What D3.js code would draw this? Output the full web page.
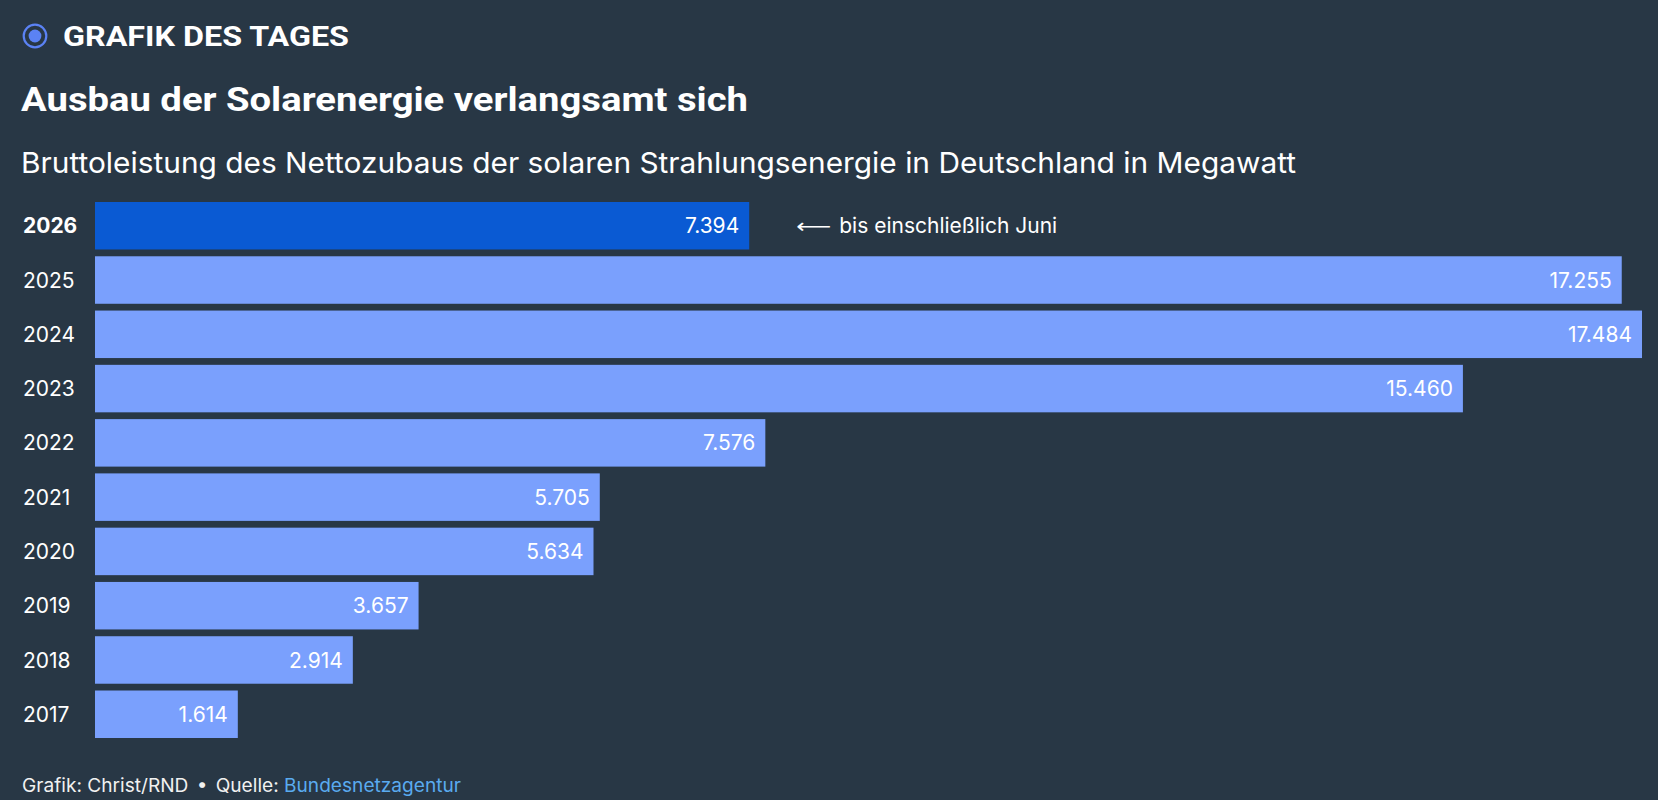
<!DOCTYPE html>
<html lang="de">
<head>
<meta charset="utf-8">
<title>Ausbau der Solarenergie verlangsamt sich</title>
<script src="https://cdn.jsdelivr.net/npm/d3@7"></script>
<style>
  html, body { margin: 0; padding: 0; background: #283745; }
  svg { display: block; }
</style>
</head>
<body>
<div id="chart"></div>
<script>
// ── data ────────────────────────────────────────────────────────────────────
const YEARS  = ["2026","2025","2024","2023","2022","2021","2020","2019","2018","2017"];
const VALUES = [7394, 17255, 17484, 15460, 7576, 5705, 5634, 3657, 2914, 1614];
const HIGHLIGHT_YEAR = "2026";
const NOTE_TEXT = "bis einschließlich Juni";

const KICKER   = "GRAFIK DES TAGES";
const TITLE    = "Ausbau der Solarenergie verlangsamt sich";
const SUBTITLE = "Bruttoleistung des Nettozubaus der solaren Strahlungsenergie in Deutschland in Megawatt";
const CREDIT   = "Grafik: Christ/RND";
const SOURCE_LABEL = "Quelle: ";
const SOURCE   = "Bundesnetzagentur";

// ── layout / style ──────────────────────────────────────────────────────────
const W = 1658, H = 800;
const BG = "#283745";
const BAR_COLOR = "#7aa0fd";
const BAR_HIGHLIGHT = "#0a5ad3";
const ACCENT = "#5b82f4";
const LINK = "#5aabf0";
const SANS = "Inter, 'Noto Sans', sans-serif";
const HEAD = "Roboto, Inter, sans-serif";
const LABEL_SIZE = "21px";

const rows = YEARS.map((year, i) => ({ year, value: VALUES[i] }));

// German number format: 17.484
const de = d3.formatLocale({ decimal: ",", thousands: ".", grouping: [3], currency: ["", " €"] });
const fmt = de.format(",d");

const svg = d3.select("#chart")
  .append("svg")
    .attr("width", W)
    .attr("height", H)
    .style("background", BG);

// ── header ──────────────────────────────────────────────────────────────────
svg.append("circle")
  .attr("cx", 35).attr("cy", 36).attr("r", 11.3)
  .attr("fill", "none").attr("stroke", ACCENT).attr("stroke-width", 2.2);
svg.append("circle")
  .attr("cx", 35).attr("cy", 36).attr("r", 6.4)
  .attr("fill", ACCENT);

svg.append("text")
  .attr("x", 63).attr("y", 45.5)
  .attr("textLength", 286).attr("lengthAdjust", "spacingAndGlyphs")
  .style("font-family", HEAD).style("font-weight", 700).style("font-size", "28px")
  .style("fill", "#fff")
  .text(KICKER);

svg.append("text")
  .attr("x", 21).attr("y", 110.5)
  .attr("textLength", 727).attr("lengthAdjust", "spacingAndGlyphs")
  .style("font-family", HEAD).style("font-weight", 700).style("font-size", "34px")
  .style("fill", "#fff")
  .text(TITLE);

svg.append("text")
  .attr("x", 21).attr("y", 172.5)
  .attr("textLength", 1275).attr("lengthAdjust", "spacingAndGlyphs")
  .style("font-family", SANS).style("font-weight", 400).style("font-size", "29px")
  .style("fill", "#fff")
  .text(SUBTITLE);

// ── scales ──────────────────────────────────────────────────────────────────
const x = d3.scaleLinear()
  .domain([0, d3.max(VALUES)])
  .range([95, 1642]);

const y = d3.scaleBand()
  .domain(YEARS)
  .range([202, 738])
  .paddingInner(0.125);

// ── bars ────────────────────────────────────────────────────────────────────
const rowG = svg.append("g").attr("class", "bars")
  .selectAll(".row")
  .data(rows, d => d.year)
  .join("g")
    .attr("class", "row")
    .attr("transform", d => `translate(0,${y(d.year)})`);

rowG.append("rect")
  .attr("x", x(0))
  .attr("width", d => x(d.value) - x(0))
  .attr("height", y.bandwidth())
  .attr("fill", d => d.year === HIGHLIGHT_YEAR ? BAR_HIGHLIGHT : BAR_COLOR);

// year labels (left)
rowG.append("text")
  .attr("x", 23)
  .attr("y", y.bandwidth() / 2)
  .attr("dy", "0.36em")
  .style("font-family", SANS).style("font-size", LABEL_SIZE)
  .style("font-weight", d => d.year === HIGHLIGHT_YEAR ? 700 : 400)
  .style("fill", "#fff")
  .text(d => d.year);

// value labels inside bar end
rowG.append("text")
  .attr("x", d => x(d.value) - 10)
  .attr("y", y.bandwidth() / 2)
  .attr("dy", "0.36em")
  .attr("text-anchor", "end")
  .style("font-family", SANS).style("font-size", LABEL_SIZE)
  .style("fill", "#fff")
  .text(d => fmt(d.value));

// annotation for the partial year
const hl = rows.find(d => d.year === HIGHLIGHT_YEAR);
const noteG = svg.append("g")
  .attr("transform", `translate(${x(hl.value) + 47},${y(hl.year) + y.bandwidth() / 2})`);

noteG.append("text")
  .attr("x", 0).attr("dy", "0.36em")
  .attr("textLength", 35).attr("lengthAdjust", "spacingAndGlyphs")
  .style("font-family", "'DejaVu Sans', sans-serif").style("font-size", "20px")
  .style("fill", "#fff")
  .text("⟵");

noteG.append("text")
  .attr("x", 43).attr("dy", "0.36em")
  .style("font-family", SANS).style("font-size", LABEL_SIZE)
  .style("fill", "#fff")
  .text(NOTE_TEXT);

// ── footer ──────────────────────────────────────────────────────────────────
const foot = svg.append("text")
  .attr("x", 22).attr("y", 791.5)
  .attr("textLength", 439).attr("lengthAdjust", "spacingAndGlyphs")
  .style("font-family", SANS).style("font-size", "18.5px")
  .style("fill", "#f1f1f1");

foot.append("tspan").text(CREDIT);
foot.append("tspan").attr("dx", 8).text("•");
foot.append("tspan").attr("dx", 8).text(SOURCE_LABEL);
foot.append("tspan").style("fill", LINK).text(SOURCE);
</script>
</body>
</html>
